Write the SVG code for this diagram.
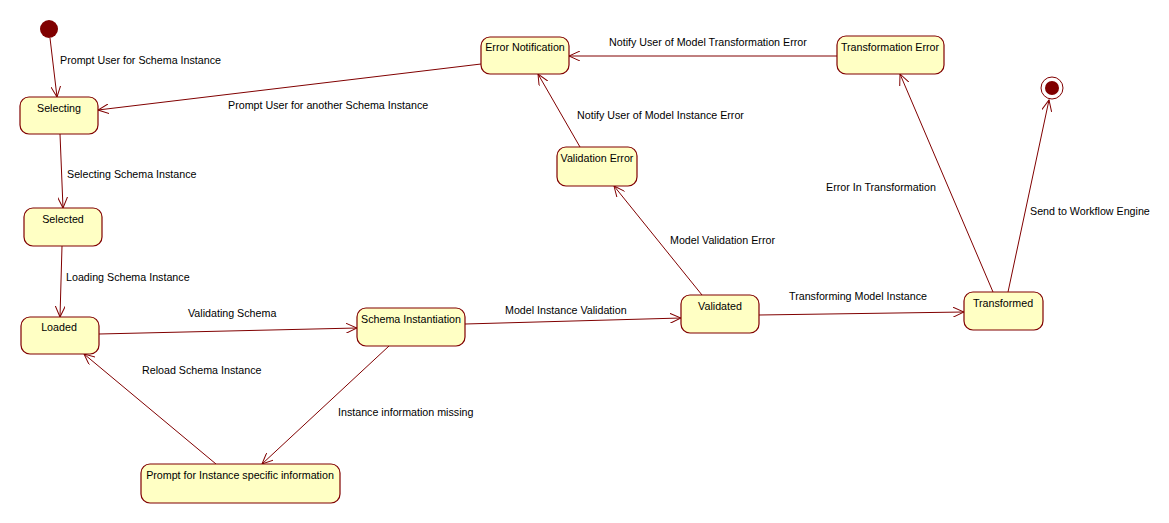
<svg xmlns="http://www.w3.org/2000/svg" width="1169" height="523" viewBox="0 0 1169 523">
<style>
.n{fill:#ffffc4;stroke:#800000;stroke-width:1.2}
.t{font-family:"Liberation Sans",Arial,sans-serif;font-size:10.7px;fill:#000}
.c{text-anchor:middle}
.e{fill:none;stroke:#800000;stroke-width:1}
</style>
<defs>
<marker id="a" viewBox="0 0 12 10" refX="11" refY="5" markerWidth="12" markerHeight="10" markerUnits="userSpaceOnUse" orient="auto">
<path d="M0,0 L11,5 L0,10" fill="none" stroke="#800000" stroke-width="1"/>
</marker>
</defs>
<rect width="1169" height="523" fill="#fff"/>
<g id="connectors">
<line class="e" x1="50" y1="38" x2="57" y2="97" marker-end="url(#a)"/>
<line class="e" x1="481" y1="64" x2="98" y2="110" marker-end="url(#a)"/>
<line class="e" x1="60" y1="134" x2="63" y2="208" marker-end="url(#a)"/>
<line class="e" x1="62" y1="246" x2="60" y2="317" marker-end="url(#a)"/>
<line class="e" x1="99" y1="334" x2="357" y2="328" marker-end="url(#a)"/>
<line class="e" x1="465" y1="324" x2="681" y2="318" marker-end="url(#a)"/>
<line class="e" x1="759" y1="315" x2="964" y2="312" marker-end="url(#a)"/>
<line class="e" x1="702" y1="295" x2="614" y2="186" marker-end="url(#a)"/>
<line class="e" x1="580" y1="147" x2="538" y2="74" marker-end="url(#a)"/>
<line class="e" x1="837" y1="56" x2="569" y2="56" marker-end="url(#a)"/>
<line class="e" x1="993" y1="292" x2="900" y2="74" marker-end="url(#a)"/>
<line class="e" x1="1008" y1="292" x2="1049" y2="100" marker-end="url(#a)"/>
<line class="e" x1="389" y1="346" x2="262" y2="464" marker-end="url(#a)"/>
<line class="e" x1="216" y1="464" x2="84" y2="354" marker-end="url(#a)"/>
<text class="t" x="60" y="64">Prompt User for Schema Instance</text>
<text class="t" x="228" y="109">Prompt User for another Schema Instance</text>
<text class="t" x="67" y="178">Selecting Schema Instance</text>
<text class="t" x="66" y="281">Loading Schema Instance</text>
<text class="t" x="188" y="317">Validating Schema</text>
<text class="t" x="505" y="314">Model Instance Validation</text>
<text class="t" x="789" y="300">Transforming Model Instance</text>
<text class="t" x="670" y="244">Model Validation Error</text>
<text class="t" x="577" y="119">Notify User of Model Instance Error</text>
<text class="t" x="609" y="46">Notify User of Model Transformation Error</text>
<text class="t" x="826" y="191">Error In Transformation</text>
<text class="t" x="1030" y="215">Send to Workflow Engine</text>
<text class="t" x="142" y="374">Reload Schema Instance</text>
<text class="t" x="338" y="416">Instance information missing</text>
</g>
<g id="start"><circle cx="49" cy="29" r="9" fill="#800000"/></g>
<g id="final"><circle cx="1052" cy="88" r="11" fill="#fff" stroke="#800000" stroke-width="1"/><circle cx="1052" cy="88" r="7" fill="#800000"/></g>
<g id="selecting"><rect class="n" x="20" y="97" width="78" height="37" rx="9"/><text class="t c" x="59" y="112">Selecting</text></g>
<g id="selected"><rect class="n" x="24" y="208" width="78" height="38" rx="9"/><text class="t c" x="63" y="223">Selected</text></g>
<g id="loaded"><rect class="n" x="21" y="317" width="78" height="37" rx="9"/><text class="t c" x="59" y="331">Loaded</text></g>
<g id="schema-instantiation"><rect class="n" x="357" y="308" width="108" height="38" rx="9"/><text class="t c" x="411" y="323">Schema Instantiation</text></g>
<g id="prompt"><rect class="n" x="141" y="464" width="199" height="39" rx="9"/><text class="t c" x="240" y="479">Prompt for Instance specific information</text></g>
<g id="validated"><rect class="n" x="681" y="295" width="78" height="38" rx="9"/><text class="t c" x="720" y="310">Validated</text></g>
<g id="transformed"><rect class="n" x="964" y="292" width="79" height="38" rx="9"/><text class="t c" x="1003" y="307">Transformed</text></g>
<g id="validation-error"><rect class="n" x="557" y="147" width="80" height="39" rx="9"/><text class="t c" x="597" y="162">Validation Error</text></g>
<g id="error-notification"><rect class="n" x="481" y="37" width="88" height="37" rx="9"/><text class="t c" x="525" y="51">Error Notification</text></g>
<g id="transformation-error"><rect class="n" x="837" y="36" width="107" height="38" rx="9"/><text class="t c" x="890" y="51">Transformation Error</text></g>
</svg>
